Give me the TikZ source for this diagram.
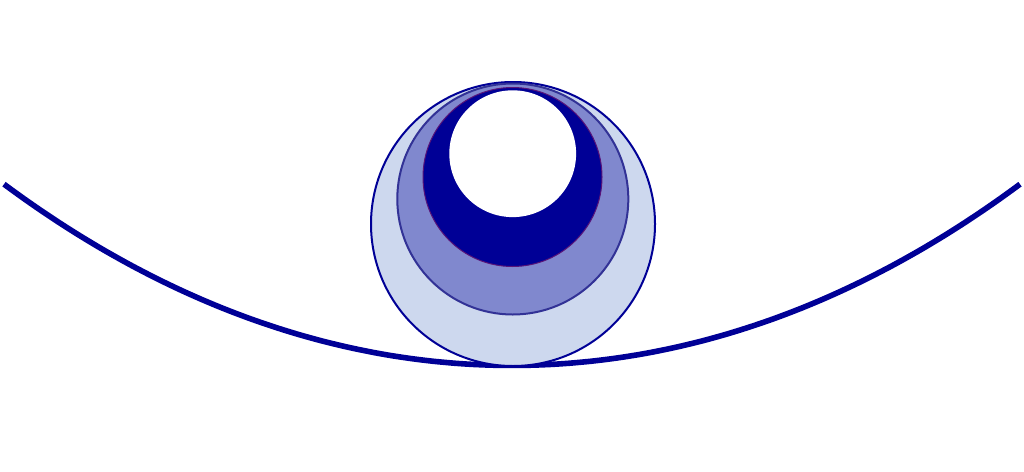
\documentclass[tikz,border=0pt]{standalone}
\begin{document}
\begin{tikzpicture}[x=1pt,y=-1pt,
  ground/.style={draw=navyline,line width=5.6pt},
  ballA/.style={fill=lightfill,draw=navyline,line width=2pt},
  ballB/.style={fill=midfill,draw=midline,line width=2pt},
  ballC/.style={fill=navyfill,draw=purpline,line width=1pt},
  hole/.style={fill=white}]
\definecolor{navyline}{RGB}{0,0,150}
\definecolor{lightfill}{RGB}{205,216,238}
\definecolor{midfill}{RGB}{128,136,206}
\definecolor{midline}{RGB}{50,50,150}
\definecolor{navyfill}{RGB}{0,0,150}
\definecolor{purpline}{RGB}{90,20,120}
\useasboundingbox (0,0) rectangle (1024,471);
\draw[ground] plot[domain=-508:508,samples=150] (\x+512,{365.5-740*(cosh(\x/740)-1)});
\path[ballA] (513,224) circle[radius=142];
\path[ballB] (512.8,199) circle[radius=115.5];
\path[ballC] (512.5,177) circle[radius=89.5];
\path[hole] (512.7,153.7) circle[radius=63.4];
\end{tikzpicture}
\end{document}
